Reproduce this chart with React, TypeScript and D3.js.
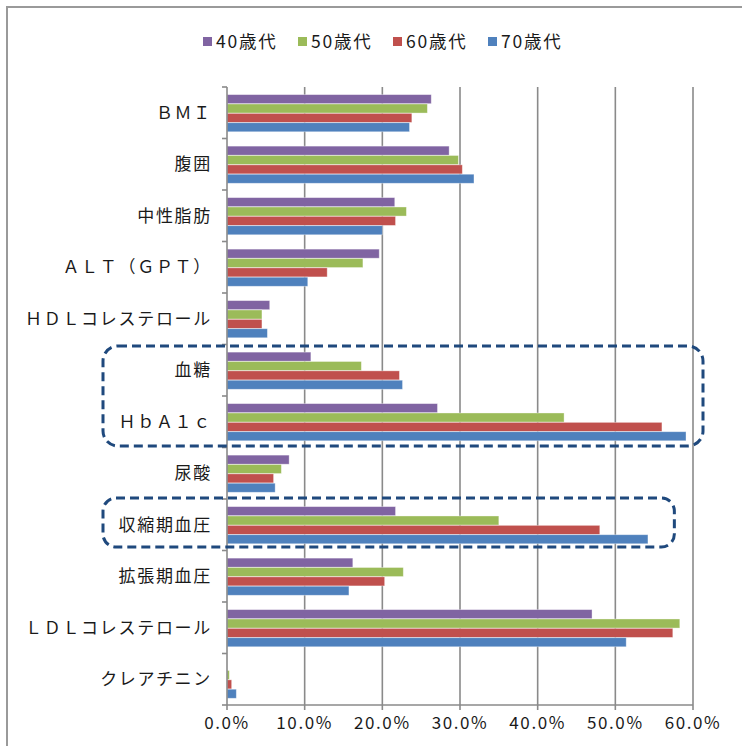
import React from "react";
import * as d3 from "d3";

const categories = [
  "ＢＭＩ",
  "腹囲",
  "中性脂肪",
  "ＡＬＴ（ＧＰＴ）",
  "ＨＤＬコレステロール",
  "血糖",
  "ＨｂＡ１ｃ",
  "尿酸",
  "収縮期血圧",
  "拡張期血圧",
  "ＬＤＬコレステロール",
  "クレアチニン",
];

const seriesNames = ["40歳代", "50歳代", "60歳代", "70歳代"];
const seriesColors = ["#8064A2", "#9BBB59", "#C0504D", "#4F81BD"];

const age40 = [26.3, 28.6, 21.6, 19.6, 5.5, 10.8, 27.1, 8.0, 21.7, 16.2, 47.0, 0.0];
const age50 = [25.8, 29.8, 23.1, 17.5, 4.5, 17.3, 43.4, 7.0, 35.0, 22.7, 58.3, 0.3];
const age60 = [23.8, 30.3, 21.7, 12.9, 4.5, 22.2, 56.0, 6.0, 48.0, 20.3, 57.4, 0.6];
const age70 = [23.5, 31.8, 20.0, 10.4, 5.2, 22.6, 59.1, 6.2, 54.2, 15.7, 51.4, 1.2];

const seriesValues = [age40, age50, age60, age70];
const xTicks = [0, 10, 20, 30, 40, 50, 60];

const W = 742;
const H = 746;
const left = 227;
const right = 693;
const top = 87;
const bottom = 705;

const FONT = "'Noto Sans CJK JP', 'Noto Sans', sans-serif";

export default function App() {
  const x = d3.scaleLinear().domain([0, 60]).range([left, right]);
  const y = d3.scaleBand<string>().domain(categories).range([top, bottom]).padding(0);
  const bw = y.bandwidth();
  const groupH = bw * (4 / 5.5);
  const inner = d3
    .scaleBand<string>()
    .domain(seriesNames)
    .range([(bw - groupH) / 2 + 0.6, (bw - groupH) / 2 + 0.6 + groupH])
    .padding(0);

  const boundaries = d3.range(categories.length + 1).map((i) => top + i * bw);

  const legendX = [203, 298, 393, 488];

  const box1Top = (y("血糖") as number) + 1.5;
  const box1Bottom = (y("ＨｂＡ１ｃ") as number) + bw - 1.5;
  const box2Top = (y("収縮期血圧") as number) - 1;
  const box2Bottom = (y("収縮期血圧") as number) + bw - 3.5;

  return (
    <svg
      width={W}
      height={H}
      style={{ position: "absolute", left: 0, top: 0, background: "#fff" }}
      fontFamily={FONT}
    >
      <rect x={0} y={0} width={W} height={H} fill="#fff" />
      {/* chart frame */}
      <rect x={7} y={7} width={W + 20} height={H + 20} fill="none" stroke="#9a9a9a" strokeWidth={2} />

      {/* legend */}
      {seriesNames.map((s, i) => (
        <g key={s}>
          <rect x={legendX[i]} y={37} width={9} height={9} fill={seriesColors[i]} />
          <text x={legendX[i] + 13} y={48} fontSize={17.5} letterSpacing={1.8} fill="#1a1a1a">
            {s}
          </text>
        </g>
      ))}

      {/* gridlines */}
      {xTicks.slice(1).map((t) => (
        <line key={t} x1={x(t)} x2={x(t)} y1={top} y2={bottom} stroke="#8a8a8a" strokeWidth={1.6} />
      ))}

      {/* bars */}
      {categories.map((c, ci) => (
        <g key={c}>
          {seriesNames.map((s, si) => {
            const v = seriesValues[si][ci];
            if (v <= 0) return null;
            return (
              <rect
                key={s}
                x={x(0)}
                y={(y(c) as number) + (inner(s) as number)}
                width={x(v) - x(0)}
                height={inner.bandwidth() - 0.3}
                fill={seriesColors[si]}
                stroke="rgba(255,255,255,0.45)"
                strokeWidth={0.8}
              />
            );
          })}
        </g>
      ))}

      {/* y axis */}
      <line x1={left} x2={left} y1={top} y2={bottom} stroke="#8a8a8a" strokeWidth={1.6} />
      {boundaries.map((b, i) => (
        <line key={i} x1={left - 5} x2={left} y1={b} y2={b} stroke="#8a8a8a" strokeWidth={1.6} />
      ))}
      {/* x axis */}
      <line x1={left} x2={right} y1={bottom} y2={bottom} stroke="#8a8a8a" strokeWidth={1.6} />
      {xTicks.map((t) => (
        <g key={t}>
          <line x1={x(t)} x2={x(t)} y1={bottom} y2={bottom + 5} stroke="#8a8a8a" strokeWidth={1.6} />
          <text x={x(t)} y={729} textAnchor="middle" fontSize={17} fill="#1a1a1a" letterSpacing={1.6}>
            {t.toFixed(1) + "%"}
          </text>
        </g>
      ))}

      {/* category labels */}
      {categories.map((c) => (
        <text
          key={c}
          x={212}
          y={(y(c) as number) + bw / 2 + 6}
          textAnchor="end"
          fontSize={17}
          letterSpacing={1.7}
          fill="#1a1a1a"
        >
          {c}
        </text>
      ))}

      {/* dashed highlight boxes */}
      <rect
        x={103}
        y={box1Top}
        width={703 - 103}
        height={box1Bottom - box1Top}
        rx={15}
        fill="none"
        stroke="#1F497D"
        strokeWidth={3}
        strokeDasharray="9 5"
      />
      <rect
        x={103}
        y={box2Top}
        width={x(57.6) - 103}
        height={box2Bottom - box2Top}
        rx={13}
        fill="none"
        stroke="#1F497D"
        strokeWidth={3}
        strokeDasharray="9 5"
      />
    </svg>
  );
}
